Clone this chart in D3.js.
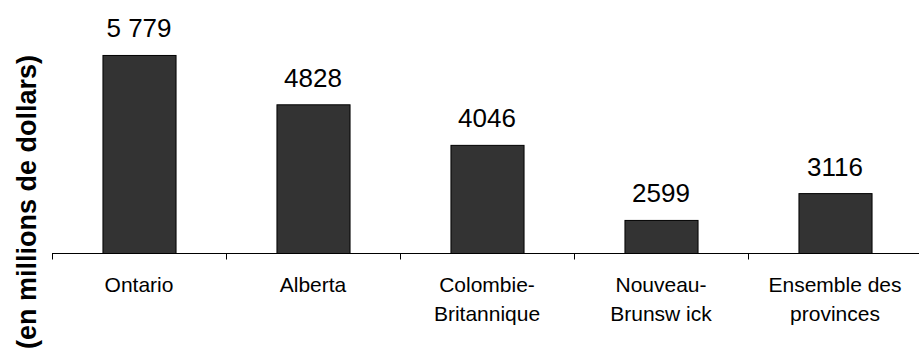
<!DOCTYPE html>
<html>
<head>
<meta charset="utf-8">
<script src="https://cdn.jsdelivr.net/npm/d3@7"></script>
<style>
    body { margin: 0; background: #fff; }
    svg { display: block; font-family: "Liberation Sans", Arial, sans-serif; }
</style>
</head>
<body>
<div id="chart"></div>
<script>

var categories = [["Ontario"], ["Alberta"], ["Colombie-", "Britannique"],
    ["Nouveau-", "Brunsw ick"], ["Ensemble des", "provinces"]];
var values = [5779, 4828, 4046, 2599, 3116];
var valueLabels = ["5 779", "4828", "4046", "2599", "3116"];
var yTitle = "(en millions de dollars)";

var width = 919, height = 354,
    left = 52, right = 922, base = 253.5;

var svg = d3.select("#chart").append("svg")
    .attr("width", width)
    .attr("height", height);

var x = d3.scaleBand()
    .domain(d3.range(values.length))
    .range([left, right])
    .paddingInner(0.58)
    .paddingOuter(0.29);

var y = d3.scaleLinear()
    .domain([2000, 6000])
    .range([251.5, 44]);

// boundaries between categories, for the tick marks
var xt = d3.scaleLinear()
    .domain([0, values.length])
    .range([left, right]);

svg.selectAll(".bar")
    .data(values)
    .enter().append("rect")
        .attr("class", "bar")
        .attr("x", function(d, i) { return x(i) + 0.5; })
        .attr("y", function(d) { return y(d); })
        .attr("width", x.bandwidth())
        .attr("height", function(d) { return base - y(d); })
        .attr("fill", "#333333")
        .attr("stroke", "#000")
        .attr("stroke-width", 1);

svg.selectAll(".vlabel")
    .data(values)
    .enter().append("text")
        .attr("class", "vlabel")
        .attr("x", function(d, i) { return x(i) + x.bandwidth() / 2; })
        .attr("y", function(d) { return y(d) - 18; })
        .attr("text-anchor", "middle")
        .attr("font-size", "26px")
        .attr("fill", "#000")
        .text(function(d, i) { return valueLabels[i]; });

var xaxis = svg.append("g")
    .attr("transform", "translate(0," + base + ")")
    .call(d3.axisBottom(xt).ticks(values.length).tickSize(6).tickFormat(""));
xaxis.select(".domain").attr("stroke", "#000").attr("d", "M" + left + ",0H" + right);
xaxis.selectAll(".tick line").attr("stroke", "#000");

var cat = svg.selectAll(".cat")
    .data(categories)
    .enter().append("text")
        .attr("class", "cat")
        .attr("text-anchor", "middle")
        .attr("font-size", "21px")
        .attr("fill", "#000");
cat.selectAll("tspan")
    .data(function(d, i) { return d.map(function(s) { return {s: s, i: i}; }); })
    .enter().append("tspan")
        .attr("x", function(d) { return x(d.i) + x.bandwidth() / 2; })
        .attr("y", function(d, j) { return 292 + j * 28.5; })
        .text(function(d) { return d.s; });

svg.append("text")
    .attr("transform", "translate(36,202) rotate(-90)")
    .attr("text-anchor", "middle")
    .attr("font-size", "27px")
    .attr("font-weight", "bold")
    .attr("fill", "#000")
    .text(yTitle);

</script>
</body>
</html>
